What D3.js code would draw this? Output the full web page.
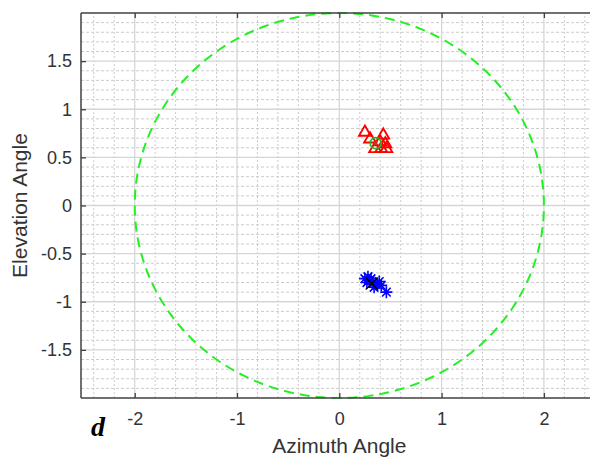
<!DOCTYPE html>
<html>
<head>
<meta charset="utf-8">
<script src="https://cdn.jsdelivr.net/npm/d3@7"></script>
<style>
  body { margin: 0; background: #fff; }
  svg { display: block; }
</style>
</head>
<body>
<div class="chart"></div>
<script>
var triangles = [
  [0.25, 0.76], [0.43, 0.73], [0.30, 0.69], [0.45, 0.64],
  [0.35, 0.59], [0.41, 0.59], [0.46, 0.59], [0.40, 0.66]
];
var stars = [
  [0.25, -0.76], [0.28, -0.74], [0.30, -0.78], [0.27, -0.80],
  [0.33, -0.80], [0.36, -0.82], [0.39, -0.79], [0.41, -0.83],
  [0.34, -0.85], [0.31, -0.76], [0.46, -0.90]
];
var greenCenter = [0.355, 0.648];
var blackCross = [0.317, -0.81];
var ring = { cx: 0, cy: 0, r: 2 };
var xTicks = [-2, -1, 0, 1, 2];
var yTicks = [-1.5, -1, -0.5, 0, 0.5, 1, 1.5];

var width = 590, height = 459;
var plotLeft = 81, plotTop = 13, plotBottom = 398;
var font = "'Liberation Sans', Arial, sans-serif";

var svg = d3.select(".chart").append("svg")
  .attr("width", width).attr("height", height);

var x = d3.scaleLinear().domain([-2.525, 2.55]).range([plotLeft, plotLeft + 5.075 * 102.3]);
var y = d3.scaleLinear().domain([-2, 2]).range([plotBottom, plotTop]);
var xr = x.range(), yr = y.range();

var grid = svg.append("g");
// minor grid
var xMinor = d3.range(-2.4, 2.5, 0.2).filter(function(v){ return Math.abs(v - Math.round(v)) > 0.01; });
var yMinor = d3.range(-1.9, 2.0, 0.1).filter(function(v){ return Math.abs(v*2 - Math.round(v*2)) > 0.01; });
grid.selectAll(".xm").data(xMinor).enter().append("line")
  .attr("x1", x).attr("x2", x).attr("y1", yr[0]).attr("y2", yr[1])
  .attr("stroke", "#cccccc").attr("stroke-dasharray", "2,2").attr("stroke-width", 1);
grid.selectAll(".ym").data(yMinor).enter().append("line")
  .attr("y1", y).attr("y2", y).attr("x1", xr[0]).attr("x2", xr[1])
  .attr("stroke", "#cccccc").attr("stroke-dasharray", "3,2").attr("stroke-width", 1);
// major grid
grid.selectAll(".xM").data(xTicks).enter().append("line")
  .attr("x1", x).attr("x2", x).attr("y1", yr[0]).attr("y2", yr[1])
  .attr("stroke", "#d6d6d6").attr("stroke-width", 1.3);
grid.selectAll(".yM").data(yTicks).enter().append("line")
  .attr("y1", y).attr("y2", y).attr("x1", xr[0]).attr("x2", xr[1])
  .attr("stroke", "#d6d6d6").attr("stroke-width", 1.3);

// green dashed ring
var ringPts = d3.range(0, 361, 2).map(function(a){
  var t = a * Math.PI / 180;
  return [ring.cx + ring.r * Math.cos(t), ring.cy + ring.r * Math.sin(t)];
});
svg.append("path")
  .attr("d", d3.line().x(function(d){ return x(d[0]); }).y(function(d){ return y(d[1]); })(ringPts))
  .attr("fill", "none").attr("stroke", "#22f022").attr("stroke-width", 2)
  .attr("stroke-dasharray", "10,6");

// red triangles
var tri = d3.symbol().type(d3.symbolTriangle).size(60);
svg.append("g").selectAll("path").data(triangles).enter().append("path")
  .attr("d", tri)
  .attr("transform", function(d){ return "translate(" + x(d[0]) + "," + y(d[1]) + ")"; })
  .attr("fill", "none").attr("stroke", "#ff0000").attr("stroke-width", 1.9);

// green circle with a small mark
svg.append("circle").attr("cx", x(greenCenter[0])).attr("cy", y(greenCenter[1])).attr("r", 5.5)
  .attr("fill", "none").attr("stroke", "#22bb22").attr("stroke-width", 1.7);
svg.append("path")
  .attr("d", d3.symbol().type(d3.symbolCross).size(14)())
  .attr("transform", "translate(" + x(greenCenter[0]) + "," + y(greenCenter[1]) + ") rotate(45)")
  .attr("fill", "#cc3333");

// blue asterisks
function asterisk(s) {
  var h = s / 2, d = h * 0.72;
  return "M" + (-h) + ",0L" + h + ",0M0," + (-h) + "L0," + h +
         "M" + (-d) + "," + (-d) + "L" + d + "," + d + "M" + (-d) + "," + d + "L" + d + "," + (-d);
}
svg.append("g").selectAll("path").data(stars).enter().append("path")
  .attr("d", asterisk(12))
  .attr("transform", function(d){ return "translate(" + x(d[0]) + "," + y(d[1]) + ")"; })
  .attr("fill", "none").attr("stroke", "#0000ff").attr("stroke-width", 1.6);

// black x
svg.append("path").attr("d", "M-6,-6L6,6M-6,6L6,-6")
  .attr("transform", "translate(" + x(blackCross[0]) + "," + y(blackCross[1]) + ")")
  .attr("stroke", "#000").attr("stroke-width", 1.4);

// axes box
var axisColor = "#404040";
svg.append("line").attr("x1", xr[0]).attr("x2", xr[0]).attr("y1", yr[0]).attr("y2", yr[1])
  .attr("stroke", axisColor).attr("stroke-width", 1.5);
svg.append("line").attr("x1", xr[0]).attr("x2", xr[1]).attr("y1", yr[0]).attr("y2", yr[0])
  .attr("stroke", axisColor).attr("stroke-width", 1.5);
svg.append("line").attr("x1", xr[0]).attr("x2", xr[1]).attr("y1", yr[1]).attr("y2", yr[1])
  .attr("stroke", axisColor).attr("stroke-width", 1.5);

var xAxis = d3.axisBottom(x).tickValues(xTicks).tickSize(-5)
  .tickFormat(function(d){ return String(d); });
var gx = svg.append("g").attr("transform", "translate(0," + yr[0] + ")").call(xAxis);
var xAxisTop = d3.axisTop(x).tickValues(xTicks).tickSize(-5).tickFormat("");
var gxt = svg.append("g").attr("transform", "translate(0," + yr[1] + ")").call(xAxisTop);
var yAxis = d3.axisLeft(y).tickValues(yTicks).tickSize(-5).tickPadding(9)
  .tickFormat(function(d){ return String(d); });
var gy = svg.append("g").attr("transform", "translate(" + xr[0] + ",0)").call(yAxis);

[gx, gxt, gy].forEach(function(g){
  g.select(".domain").remove();
  g.selectAll(".tick line").attr("stroke", axisColor).attr("stroke-width", 1.3);
  g.selectAll(".tick text").attr("fill", "#333")
    .style("font-family", font).style("font-size", "18px");
});
gx.selectAll(".tick text").attr("y", 27).attr("dy", 0);

svg.append("text").attr("x", x(0)).attr("y", 453).attr("text-anchor", "middle")
  .style("font-family", font).style("font-size", "21px")
  .attr("fill", "#333").text("Azimuth Angle");
svg.append("text").attr("transform", "translate(27," + y(0) + ") rotate(-90)")
  .attr("text-anchor", "middle")
  .style("font-family", font).style("font-size", "21px")
  .attr("fill", "#333").text("Elevation Angle");
svg.append("text").attr("x", 91).attr("y", 436)
  .style("font-family", "'Liberation Serif', 'Times New Roman', serif").style("font-size", "28px")
  .style("font-style", "italic").style("font-weight", "bold").attr("fill", "#000").text("d");
</script>
</body>
</html>
